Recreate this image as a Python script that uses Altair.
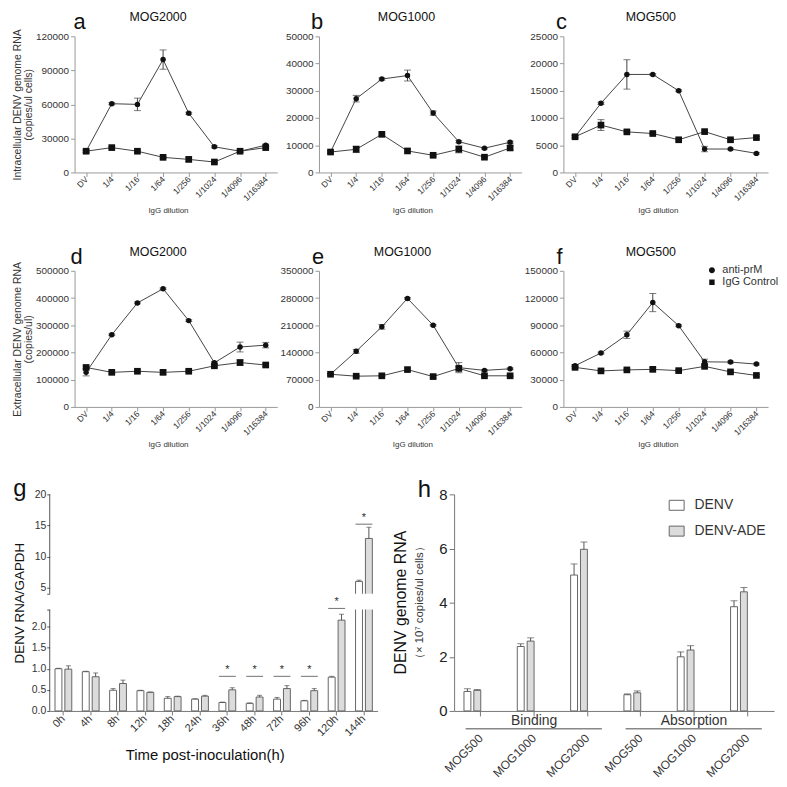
import altair as alt
import pandas as pd

FONT = "Liberation Sans"

# ---------------- data: panels a-f ----------------
dilutions = ["DV", "1/4", "1/16", "1/64", "1/256", "1/1024", "1/4096", "1/16384"]
series_names = ["anti-prM", "IgG Control"]

a_anti = [18700, 60600, 60000, 99500, 52200, 22600, 18700, 24000]
a_anti_err = [900, 900, 5500, 8500, 900, 900, 800, 1000]
a_igg = [18700, 21900, 18700, 13300, 11500, 9200, 18700, 21900]
a_igg_err = [900, 900, 900, 900, 2000, 900, 900, 900]

b_anti = [7500, 27100, 34300, 35600, 21800, 11300, 8900, 11100]
b_anti_err = [400, 1200, 400, 2000, 800, 400, 300, 400]
b_igg = [7500, 8500, 14000, 7900, 6300, 8500, 5600, 9000]
b_igg_err = [400, 1200, 400, 400, 400, 1300, 300, 800]

c_anti = [6550, 12700, 18000, 18000, 15000, 4300, 4300, 3500]
c_anti_err = [200, 200, 2700, 150, 150, 500, 150, 150]
c_igg = [6550, 8700, 7450, 7150, 6000, 7500, 6000, 6400]
c_igg_err = [200, 1000, 200, 200, 200, 200, 200, 200]

d_anti = [127000, 265000, 382000, 434000, 317000, 162000, 220000, 227000]
d_anti_err = [13000, 3000, 3000, 3000, 3000, 5000, 18000, 10000]
d_igg = [145000, 127000, 131000, 127000, 131000, 151000, 163000, 154000]
d_igg_err = [5000, 5000, 5000, 8000, 5000, 5000, 10000, 5000]

e_anti = [84000, 143000, 206000, 279000, 210000, 101000, 94000, 98000]
e_anti_err = [2000, 5000, 6000, 2000, 2000, 13000, 2000, 2000]
e_igg = [84000, 79000, 80000, 96000, 78000, 99000, 80000, 80000]
e_igg_err = [2000, 2000, 2000, 4000, 4000, 4000, 2000, 2000]

f_anti = [45400, 59400, 79500, 115000, 89500, 49700, 49400, 47200]
f_anti_err = [1000, 1000, 4000, 10000, 1000, 3000, 1000, 1000]
f_igg = [43600, 39700, 40800, 41400, 40000, 44700, 38600, 34700]
f_igg_err = [1000, 1000, 1000, 2000, 1000, 1000, 1000, 1000]

# ---------------- data: panel g ----------------
g_times = ["0h", "4h", "8h", "12h", "18h", "24h", "36h", "48h", "72h", "96h", "120h", "144h"]
g_series = ["DENV", "DENV-ADE"]
g_denv = [1.00, 0.93, 0.49, 0.48, 0.30, 0.28, 0.20, 0.18, 0.28, 0.24, 0.80, 5.98]
g_denv_err = [0.01, 0.01, 0.04, 0.01, 0.04, 0.01, 0.01, 0.01, 0.04, 0.01, 0.02, 0.2]
g_ade = [0.99, 0.81, 0.65, 0.44, 0.34, 0.35, 0.50, 0.33, 0.53, 0.48, 2.15, 12.9]
g_ade_err = [0.08, 0.09, 0.08, 0.01, 0.01, 0.02, 0.05, 0.04, 0.07, 0.05, 0.14, 1.8]
g_sig_times = ["36h", "48h", "72h", "96h", "120h", "144h"]
g_sig_level = [0.82, 0.82, 0.82, 0.82, 2.52, 15.2]

# ---------------- data: panel h ----------------
h_groups = ["Binding", "Absorption"]
h_mogs = ["MOG500", "MOG1000", "MOG2000"]
h_series = ["DENV", "DENV-ADE"]
h_denv = [0.72, 2.38, 5.02, 0.60, 2.00, 3.85]
h_denv_err = [0.10, 0.10, 0.41, 0.03, 0.18, 0.22]
h_ade = [0.76, 2.58, 5.97, 0.67, 2.25, 4.40]
h_ade_err = [0.03, 0.12, 0.27, 0.07, 0.16, 0.16]

H1 = 137      # plot height rows 1-2
TOP2 = 28     # empty band on top of the row-2 views
H3 = 218      # plot height row 3

CIRCLE_LEG = "M-1,0H-0.5M0.5,0H1M-0.5,0A0.5,0.5,0,1,0,0.5,0A0.5,0.5,0,1,0,-0.5,0Z"
SQUARE_LEG = "M-1,0H-0.45M0.45,0H1M-0.45,-0.45H0.45V0.45H-0.45Z"
RECT_LEG = "M-1,-0.67H1V0.67H-1Z"


def text_layer(label, x, y, size, color="#111", angle=None, baseline="alphabetic", align="center", weight="normal"):
    kw = dict(font=FONT, fontSize=size, color=color, baseline=baseline, align=align, fontWeight=weight)
    if angle is not None:
        kw["angle"] = angle
    return alt.Chart(pd.DataFrame({"label": [label]})).mark_text(**kw).encode(
        text="label:N", x=alt.value(x), y=alt.value(y))


def line_panel(anti, anti_err, igg, igg_err, ymax, ystep, title, letter, W, top,
               ytitle=None, legend=False, letter_dx=0, title_dx=86):
    rows = []
    for name, vals, errs in ((series_names[0], anti, anti_err), (series_names[1], igg, igg_err)):
        for dil, v, e in zip(dilutions, vals, errs):
            rows.append({"dil": dil, "series": name, "value": v, "lo": v - e, "hi": v + e})
    df = pd.DataFrame(rows)
    VH = H1 + top
    xs = alt.Scale(type="point", domain=dilutions, padding=0.45)
    ys = alt.Scale(domain=[0, ymax], range=[VH, top], nice=False, zero=True)
    xaxis = alt.Axis(labelAngle=315, labelAlign="right", labelBaseline="middle", labelFont=FONT,
                     labelFontSize=8.5, labelColor="#333", labelPadding=1, tickSize=4,
                     domainColor="#999", tickColor="#999", title="IgG dilution", titleFont=FONT,
                     titleFontSize=8, titleFontWeight="normal", titleColor="#333", titleY=38,
                     titleX=W / 2 - 8, titleBaseline="middle", grid=False)
    ykw = dict(values=list(range(0, ymax + 1, ystep)), format="d", grid=False, labelFont=FONT,
               labelFontSize=10, labelColor="#333", domainColor="#999", tickColor="#999",
               tickSize=4, labelPadding=2)
    if ytitle:
        ykw.update(title=ytitle, titleFont=FONT, titleFontSize=10.5, titleColor="#333",
                   titleFontWeight="normal", titleAngle=270, titleX=-62, titleY=top + H1 / 2,
                   titleAlign="center", titleBaseline="top", titleLineHeight=11)
    else:
        ykw.update(title=None)
    yaxis = alt.Axis(**ykw)
    X = alt.X("dil:N", scale=xs, axis=xaxis, sort=dilutions)

    def Y(f):
        return alt.Y(f + ":Q", scale=ys, axis=yaxis)

    base = alt.Chart(df)
    line = base.mark_line(color="#444", strokeWidth=1).encode(x=X, y=Y("value"), detail="series:N")
    err = base.mark_rule(color="#444", strokeWidth=1).encode(x=X, y=Y("lo"), y2="hi:Q")
    cap_lo = base.mark_tick(color="#444", size=7, thickness=1).encode(x=X, y=Y("lo"))
    cap_hi = base.mark_tick(color="#444", size=7, thickness=1).encode(x=X, y=Y("hi"))
    pc = base.transform_filter(alt.datum.series == series_names[0]).mark_point(
        shape="circle", filled=True, color="#111", size=30, opacity=1).encode(x=X, y=Y("value"))
    ps = base.transform_filter(alt.datum.series == series_names[1]).mark_point(
        shape="square", filled=True, color="#111", size=45, opacity=1).encode(x=X, y=Y("value"))
    layers = [line, err, cap_lo, cap_hi, pc, ps,
              text_layer(title, title_dx, top - 15, 12.5),
              text_layer(letter, letter_dx, top - 7, 22)]
    if legend:
        leg = alt.Chart(pd.DataFrame({"series": series_names})).mark_point(
            filled=True, color="#111", opacity=0).encode(
            shape=alt.Shape("series:N", scale=alt.Scale(domain=series_names, range=[CIRCLE_LEG, SQUARE_LEG]),
                            legend=alt.Legend(title=None, orient="none", legendX=143, legendY=top - 7,
                                              symbolSize=144, symbolFillColor="#111",
                                              symbolStrokeColor="#111", symbolStrokeWidth=1,
                                              labelFont=FONT, labelFontSize=11, labelColor="#333",
                                              labelOffset=4, rowPadding=0, padding=0)))
        layers.append(leg)
    return alt.layer(*layers).properties(width=W, height=VH)


pa = line_panel(a_anti, a_anti_err, a_igg, a_igg_err, 120000, 30000, "MOG2000", "a", 204, 0,
                ytitle=["Intracellular DENV genome RNA", "(copies/ul cells)"], letter_dx=5, title_dx=84)
pb = line_panel(b_anti, b_anti_err, b_igg, b_igg_err, 50000, 10000, "MOG1000", "b", 204, 0,
                letter_dx=-2, title_dx=88)
pc_ = line_panel(c_anti, c_anti_err, c_igg, c_igg_err, 25000, 5000, "MOG500", "c", 206, 0,
                 letter_dx=-2, title_dx=88)
pd_ = line_panel(d_anti, d_anti_err, d_igg, d_igg_err, 500000, 100000, "MOG2000", "d", 204, TOP2,
                 ytitle=["Extracellular DENV genome RNA", "(copies/ul)"], letter_dx=2, title_dx=84)
pe = line_panel(e_anti, e_anti_err, e_igg, e_igg_err, 350000, 70000, "MOG1000", "e", 204, TOP2,
                letter_dx=-1, title_dx=84)
pf = line_panel(f_anti, f_anti_err, f_igg, f_igg_err, 150000, 30000, "MOG500", "f", 206, TOP2,
                legend=True, letter_dx=-4, title_dx=88)


# ---------------- panel g ----------------
def g_panel():
    W = 340
    rows = []
    for name, vals, errs in ((g_series[0], g_denv, g_denv_err), (g_series[1], g_ade, g_ade_err)):
        for t, v, e in zip(g_times, vals, errs):
            rows.append({"t": t, "series": name, "value": v, "hi": v + e})
    df = pd.DataFrame(rows)
    xs = alt.Scale(type="band", domain=g_times, range=[-25, 305], paddingInner=0.386, paddingOuter=0.193)
    ys = alt.Scale(domain=[0, 2.4, 4, 20], range=[H3, H3 - 102, H3 - 118, 0], nice=False, zero=False)
    xo = alt.XOffset("series:N", scale=alt.Scale(domain=g_series, paddingInner=0.3, paddingOuter=0))
    xaxis = alt.Axis(labelAngle=315, labelAlign="right", labelBaseline="middle", labelFont=FONT,
                     labelFontSize=11, labelColor="#333", labelPadding=2, tickSize=4,
                     domainColor="#777", tickColor="#777", title="Time post-inoculation(h)",
                     titleFont=FONT, titleFontSize=15, titleFontWeight="normal", titleColor="#111",
                     titleY=44, titleX=131, titleBaseline="middle", grid=False)
    yaxis = alt.Axis(values=[0, 0.5, 1, 1.5, 2, 2.4, 4, 5, 10, 15, 20], domain=False, offset=25,
                     labelExpr="datum.value == 2.4 || datum.value == 4 ? '' : (datum.value < 3 ? format(datum.value, '.1f') : format(datum.value, 'd'))",
                     labelFont=FONT, labelFontSize=10.5, labelColor="#333", tickSize=3, tickColor="#555",
                     labelPadding=1, grid=False, title="DENV RNA/GAPDH", titleFont=FONT, titleFontSize=13.5,
                     titleFontWeight="normal", titleColor="#111", titleAngle=270, titleX=-37,
                     titleY=H3 / 2, titleAlign="center", titleBaseline="top")
    X = alt.X("t:N", scale=xs, axis=xaxis, sort=g_times)

    def Y(f):
        return alt.Y(f + ":Q", scale=ys, axis=yaxis, stack=None)

    base = alt.Chart(df)
    bars = base.mark_bar(stroke="#666", strokeWidth=1).encode(
        x=X, xOffset=xo, y=Y("value"),
        fill=alt.Fill("series:N", scale=alt.Scale(domain=g_series, range=["#ffffff", "#dcdcdc"]), legend=None))
    err = base.mark_rule(color="#555").encode(x=X, xOffset=xo, y=Y("value"), y2="hi:Q")
    cap = base.mark_tick(color="#555", size=5, thickness=1).encode(x=X, xOffset=xo, y=Y("hi"))
    gap = alt.Chart(pd.DataFrame({"y0": [2.4], "y1": [4.0]})).mark_rect(fill="white").encode(
        x=alt.value(-24), x2=alt.value(306), y=Y("y0"), y2="y1:Q")
    segs = alt.Chart(pd.DataFrame({"y0": [0.0, 4.0], "y1": [2.4, 20.0]})).mark_rule(color="#555").encode(
        x=alt.value(-25), y=Y("y0"), y2="y1:Q")
    sdf = pd.DataFrame({"t": g_sig_times, "lvl": g_sig_level, "s": ["*"] * len(g_sig_times)})
    sig_line = alt.Chart(sdf).mark_tick(color="#333", size=17, thickness=1).encode(x=X, y=Y("lvl"))
    sig_txt = alt.Chart(sdf).mark_text(font=FONT, fontSize=11, color="#333", dy=-1, baseline="bottom").encode(
        x=X, y=Y("lvl"), text="s:N")
    return alt.layer(bars, err, cap, gap, segs, sig_line, sig_txt,
                     text_layer("g", -55, 2, 24)).properties(width=W, height=H3)


# ---------------- panel h ----------------
def h_panel():
    W = 322
    cats = [f"{g}|{m}" for g in h_groups for m in h_mogs]
    rows = []
    for name, vals, errs in ((h_series[0], h_denv, h_denv_err), (h_series[1], h_ade, h_ade_err)):
        for c, v, e in zip(cats, vals, errs):
            rows.append({"cat": c, "series": name, "value": v, "hi": v + e})
    df = pd.DataFrame(rows)
    xs = alt.Scale(type="band", domain=cats, paddingInner=0.37, paddingOuter=0.185)
    ys = alt.Scale(domain=[0, 8], nice=False)
    xo = alt.XOffset("series:N", scale=alt.Scale(domain=h_series, paddingInner=0.33, paddingOuter=0))
    xaxis = alt.Axis(labelExpr="split(datum.label, '|')[1]", labelAngle=315, labelAlign="right",
                     labelBaseline="middle", labelFont=FONT, labelFontSize=12, labelColor="#333",
                     labelPadding=20, tickSize=5, domainColor="#777", tickColor="#777", title=None, grid=False)
    yaxis = alt.Axis(values=[0, 2, 4, 6, 8], labelFont=FONT, labelFontSize=15, labelColor="#222",
                     tickSize=5, domainColor="#777", tickColor="#777", title=None, grid=False, labelPadding=2)

    def Y(f):
        return alt.Y(f + ":Q", scale=ys, axis=yaxis, stack=None)

    X = alt.X("cat:N", scale=xs, axis=xaxis, sort=cats)
    base = alt.Chart(df)
    bars = base.mark_bar(stroke="#666", strokeWidth=1).encode(
        x=X, xOffset=xo, y=Y("value"),
        fill=alt.Fill("series:N", scale=alt.Scale(domain=h_series, range=["#ffffff", "#dcdcdc"]),
                      legend=alt.Legend(title=None, orient="none", legendX=216, legendY=3,
                                        symbolType=RECT_LEG, symbolSize=225, symbolStrokeColor="#666",
                                        symbolStrokeWidth=1, labelFont=FONT, labelFontSize=14,
                                        labelColor="#333", labelOffset=10, rowPadding=10, padding=0)))
    err = base.mark_rule(color="#555").encode(x=X, xOffset=xo, y=Y("value"), y2="hi:Q")
    cap = base.mark_tick(color="#555", size=7, thickness=1).encode(x=X, xOffset=xo, y=Y("hi"))
    gdf = pd.DataFrame({"grp": h_groups,
                        "first": [f"{g}|{h_mogs[0]}" for g in h_groups],
                        "mid": [f"{g}|{h_mogs[1]}" for g in h_groups],
                        "last": [f"{g}|{h_mogs[2]}" for g in h_groups]})
    grp_line = alt.Chart(gdf).mark_rule(color="#888", strokeWidth=1.5).encode(
        x=alt.X("first:N", scale=xs, axis=xaxis, bandPosition=0.05),
        x2=alt.X2("last:N", bandPosition=0.93), y=alt.value(H3 + 18))
    grp_txt = alt.Chart(gdf).mark_text(font=FONT, fontSize=14, color="#333", baseline="middle").encode(
        x=alt.X("mid:N", scale=xs, axis=xaxis), y=alt.value(H3 + 10), text="grp:N")
    return alt.layer(bars, err, cap, grp_line, grp_txt,
                     text_layer("DENV  genome RNA", -53, H3 / 2, 16, angle=270, baseline="middle"),
                     text_layer("（× 10⁷ copies/ul cells）", -34, H3 / 2, 11.5, color="#333", angle=270,
                                baseline="middle"),
                     text_layer("h", -30, 3, 24)).properties(width=W, height=H3)


pg = g_panel()
ph = h_panel()

row1 = alt.hconcat(pa, pb, pc_, spacing=42, bounds="flush")
row2 = alt.hconcat(pd_, pe, pf, spacing=42, bounds="flush").resolve_scale(
    shape="independent").resolve_legend(shape="independent")
row3 = alt.hconcat(pg, ph, spacing=42, bounds="flush").resolve_scale(
    fill="independent").resolve_legend(fill="independent")

chart = alt.vconcat(row1, row2, row3, spacing=29,
                    padding={"left": 5, "top": 1, "right": 0, "bottom": 0}).resolve_scale(
    fill="independent", shape="independent"
).resolve_legend(fill="independent", shape="independent").configure(
    font=FONT, view=alt.ViewConfig(stroke=None))

chart.save("out.html", embed_options={"renderer": "svg", "actions": False})
